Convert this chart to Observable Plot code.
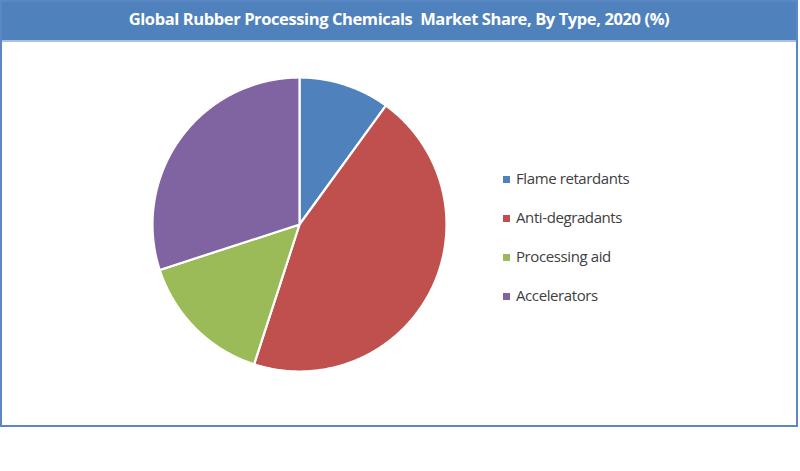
<!DOCTYPE html>
<html><head><meta charset="utf-8">
<script src="https://cdn.jsdelivr.net/npm/d3@7"></script>
<script src="https://cdn.jsdelivr.net/npm/@observablehq/plot@0.6"></script>
<style>
body{margin:0;background:#fff;}
#wrap{position:relative;width:800px;height:471px;font-family:"Open Sans",sans-serif;}
#frame{position:absolute;left:0;top:0;width:794px;height:423px;border:2px solid #5B87C4;box-sizing:content-box;}
#title{position:absolute;left:0;top:0;width:794px;height:38px;background:#4F81BD;color:#fff;font-weight:bold;font-size:16.5px;line-height:34px;text-align:center;border-bottom:2px solid #a9c1e2;letter-spacing:-0.4px;white-space:pre;}
#chart{position:absolute;left:0;top:40px;}
#legend{position:absolute;left:503px;top:168px;font-size:15px;color:#404040;letter-spacing:-0.4px;}
.li{height:39px;display:flex;align-items:flex-start;}
.sw{width:7px;height:7px;margin-right:6px;margin-top:8px;}
</style></head>
<body><div id="wrap"><div id="frame"><div id="title"></div></div><div id="chart"></div><div id="legend"></div></div>
<script>
const title = "Global Rubber Processing Chemicals  Market Share, By Type, 2020 (%)";
const categories = ["Flame retardants","Anti-degradants","Processing aid","Accelerators"];
const shares = [10, 45, 15, 30];
const colors = ["#4F81BD","#C0504D","#9BBB59","#8064A2"];

document.getElementById("title").textContent = title;
const data = categories.map((c,i)=>({category:c, value:shares[i]}));
const arcs = d3.pie().sort(null).value(d=>d.value)(data);
const pts = [];
arcs.forEach(a=>{
  const c = a.data.category;
  pts.push({category:c,x:0,y:0});
  const n = Math.max(2, Math.ceil((a.endAngle-a.startAngle)/0.01));
  for(let k=0;k<=n;k++){
    const t = a.startAngle + (a.endAngle-a.startAngle)*k/n;
    pts.push({category:c,x:Math.sin(t),y:Math.cos(t)});
  }
  pts.push({category:c,x:0,y:0});
});
const plot = Plot.plot({
  width:797, height:386,
  marginLeft:152, marginRight:351, marginTop:37, marginBottom:55,
  x:{domain:[-1,1],axis:null}, y:{domain:[-1,1],axis:null},
  color:{domain:categories, range:colors},
  marks:[
    Plot.line(pts,{x:"x",y:"y",z:"category",fill:"category",stroke:"white",strokeWidth:2.2,curve:"linear",strokeLinejoin:"round"})
  ]
});
document.getElementById("chart").appendChild(plot);
const lg = document.getElementById("legend");
categories.forEach((c,i)=>{
  const d=document.createElement("div");d.className="li";
  d.innerHTML=`<span class="sw" style="background:${colors[i]}"></span><span>${c}</span>`;
  lg.appendChild(d);
});
</script></body></html>
